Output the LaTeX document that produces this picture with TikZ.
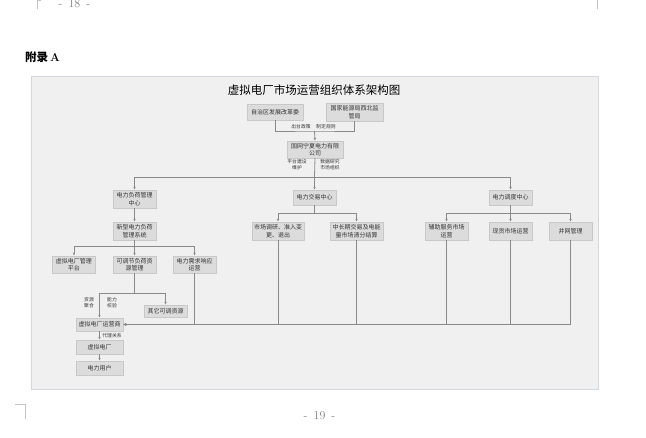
\documentclass[tikz,border=0pt]{standalone}
\usepackage{fontspec}
\newfontfamily\cjk{Noto Sans CJK SC}
\usetikzlibrary{arrows.meta}
\definecolor{panelfill}{HTML}{F0F0F0}
\definecolor{paneledge}{HTML}{D4D8DE}
\definecolor{boxfill}{HTML}{DCDCDC}
\definecolor{boxedge}{HTML}{C8C8C8}
\definecolor{wiregray}{HTML}{8A8A8A}
\definecolor{ink}{HTML}{333333}
\definecolor{markgray}{HTML}{C4C4C4}
\begin{document}
\begin{tikzpicture}[x=1pt,y=-1pt,
  box/.style={draw=boxedge,fill=boxfill,text=ink,font=\cjk\fontsize{6}{7.5}\selectfont,align=center,inner sep=0pt,minimum width=43,minimum height=18},
  tag/.style={text=ink,font=\cjk\fontsize{4.8}{6}\selectfont,align=center,inner sep=0pt},
  pagenum/.style={text=gray,font=\fontsize{12}{14}\selectfont,inner sep=0pt,anchor=base},
  wire/.style={draw=wiregray,line width=0.8pt},
  arr/.style={wire,-{Latex[length=3pt,width=2.6pt]}}]
\useasboundingbox (0,0) rectangle (646,438);
\draw[markgray] (37.5,0) -- (37.5,9) (37.5,0.5) -- (41,0.5);
\draw[markgray] (597,0) -- (597,9);
\draw[markgray] (15,404) -- (25,404) -- (25,419);
\node[pagenum] (p18) at (74.5,8) {-\hspace{6pt}18\hspace{6pt}-};
\node[pagenum] (p19) at (319.5,420) {-\hspace{6pt}19\hspace{6pt}-};
\node[anchor=west,inner sep=0pt,font=\fontsize{11.5}{13}\selectfont] (appx) at (25,57) {{\cjk\bfseries 附录}\,\textbf{A}};
\draw[draw=paneledge,fill=panelfill] (31,76) rectangle (598,389);
\node[font=\cjk\fontsize{11.5}{13}\selectfont] (title) at (314,90) {虚拟电厂市场运营组织体系架构图};
\node[box,minimum width=56,minimum height=16] (drc) at (275,112) {自治区发展改革委};
\node[box,minimum width=57] (nea) at (354.5,112) {国家能源局西北监\\管局};
\node[box,minimum width=56,minimum height=17] (sgcc) at (315,149.5) {国网宁夏电力有限\\公司};
\node[box] (lmc) at (134.5,199) {电力负荷管理\\中心};
\node[box,minimum height=15] (ptc) at (314.5,197.5) {电力交易中心};
\node[box,minimum height=15] (dcc) at (510.5,197.5) {电力调度中心};
\node[box] (lms) at (134.5,231) {新型电力负荷\\管理系统};
\node[box,minimum height=17] (plat) at (74,264.5) {虚拟电厂管理\\平台};
\node[box,minimum height=17] (adj) at (134.5,264.5) {可调节负荷资\\源管理};
\node[box,minimum height=17] (dr) at (194.5,264.5) {电力需求响应\\运营};
\node[box,minimum width=52] (acc) at (278,231) {市场调研、准入变\\更、退出};
\node[box,minimum width=53] (mlt) at (356.5,231) {中长期交易及电能\\量市场清分结算};
\node[box] (anc) at (446.5,231) {辅助服务市场\\运营};
\node[box] (spot) at (510.5,231) {现货市场运营};
\node[box] (grid) at (570.5,231) {并网管理};
\node[box,minimum height=12] (oth) at (165.5,311) {其它可调资源};
\node[box,minimum width=47,minimum height=13] (vppo) at (99.5,324.5) {虚拟电厂运营商};
\node[box,minimum width=47,minimum height=14] (vpp) at (99.5,347) {虚拟电厂};
\node[box,minimum width=47,minimum height=14] (user) at (99.5,368) {电力用户};
\coordinate (j1) at (314.5,131);
\coordinate (j2) at (314.5,177);
\coordinate (j3) at (134.5,246);
\coordinate (j4) at (314.5,213);
\coordinate (j5) at (510.5,213);
\coordinate (j6) at (134.5,293);
\draw[wire] (drc.south) |- (j1) -| (nea.south);
\draw[arr] (j1) -- (sgcc.north);
\draw[wire] (sgcc.south) -- (j2);
\draw[arr] (j2) -| (lmc.north);
\draw[arr] (j2) -- (ptc.north);
\draw[arr] (j2) -| (dcc.north);
\draw[arr] (lmc) -- (lms);
\draw[wire] (lms.south) -- (j3);
\foreach \n in {plat,adj,dr} \draw[arr] (j3) -| (\n.north);
\draw[wire] (ptc.south) -- (j4);
\foreach \n in {acc,mlt} \draw[arr] (j4) -| (\n.north);
\draw[wire] (dcc.south) -- (j5);
\foreach \n in {anc,spot,grid} \draw[arr] (j5) -| (\n.north);
\draw[wire] (adj.south) -- (j6);
\draw[arr] (j6) -| (vppo.north);
\draw[arr] (j6) -| (oth.north);
\foreach \n in {dr,acc,mlt,anc,spot,grid} \draw[arr] (\n.south) |- (vppo.east);
\draw[arr] (vppo) -- (vpp);
\draw[arr] (vpp) -- (user);
\node[tag] (t1) at (301,127) {出台政策};
\node[tag] (t2) at (326,127) {制定规则};
\node[tag] (t3) at (297,165) {平台建设\\维护};
\node[tag] (t4) at (330,165) {数据研究\\市场组织};
\node[tag] (t5) at (89,303) {资源\\聚合};
\node[tag] (t6) at (112,303) {能力\\校验};
\node[tag] (t7) at (112,336) {代理关系};
\end{tikzpicture}
\end{document}
